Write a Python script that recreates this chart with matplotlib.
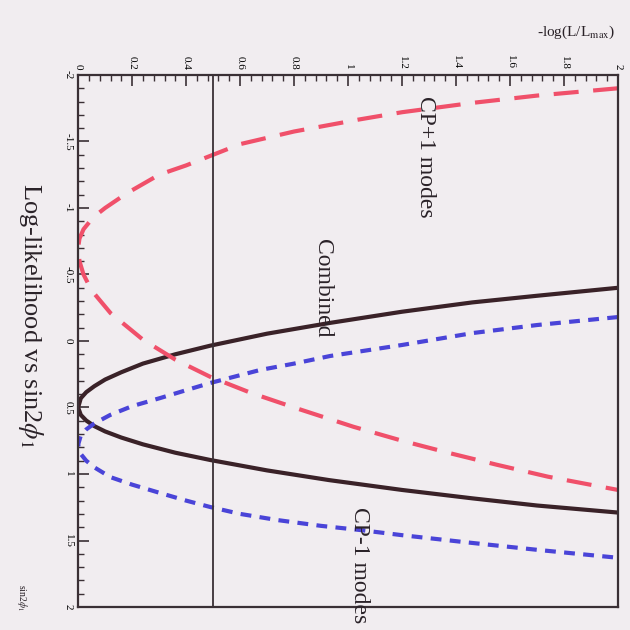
import matplotlib
matplotlib.use("Agg")
import matplotlib.pyplot as plt
from matplotlib.ticker import MultipleLocator

plt.rcParams['font.family'] = ['Liberation Serif', 'DejaVu Serif']
plt.rcParams['mathtext.fontset'] = 'stix'

# ---- data read from the (rotated) picture ----
# -log(L/Lmax) values and the matching sin2phi1 values, per curve
comb_L = [2.0, 1.7, 1.46, 1.2, 0.93, 0.70, 0.49, 0.36, 0.24, 0.16, 0.10, 0.06, 0.03, 0.01, 0.0,
          0.01, 0.03, 0.06, 0.10, 0.16, 0.24, 0.36, 0.49, 0.70, 0.93, 1.2, 1.46, 1.7, 2.0]
comb_s = [-0.40, -0.34, -0.29, -0.22, -0.135, -0.055, 0.035, 0.10, 0.17, 0.235, 0.29, 0.34, 0.385, 0.43, 0.50,
          0.556, 0.598, 0.64, 0.68, 0.726, 0.777, 0.84, 0.895, 0.973, 1.046, 1.12, 1.183, 1.237, 1.29]

cpp_L = [2.0, 1.7, 1.46, 1.2, 1.04, 0.80, 0.60, 0.50, 0.40, 0.30, 0.18, 0.10, 0.056, 0.02, 0.005, 0.0,
         0.005, 0.02, 0.05, 0.12, 0.24, 0.36, 0.49, 0.64, 0.80, 1.02, 1.2, 1.37, 1.55, 1.74, 2.0]
cpp_s = [-1.90, -1.845, -1.79, -1.72, -1.665, -1.575, -1.48, -1.40, -1.32, -1.25, -1.11, -1.00, -0.93, -0.84, -0.77, -0.70,
         -0.60, -0.50, -0.38, -0.21, -0.01, 0.14, 0.27, 0.39, 0.50, 0.645, 0.75, 0.84, 0.93, 1.02, 1.12]

cpm_L = [2.0, 1.7, 1.463, 1.2, 0.933, 0.8, 0.674, 0.489, 0.40, 0.304, 0.2, 0.119, 0.06, 0.03, 0.01, 0.0,
         0.01, 0.03, 0.06, 0.119, 0.2, 0.304, 0.40, 0.489, 0.6, 0.737, 0.9, 1.044, 1.2, 1.426, 1.7, 2.0]
cpm_s = [-0.18, -0.12, -0.06, 0.03, 0.113, 0.17, 0.218, 0.316, 0.37, 0.429, 0.49, 0.556, 0.62, 0.665, 0.71, 0.78,
         0.85, 0.90, 0.95, 1.023, 1.08, 1.143, 1.20, 1.248, 1.30, 1.346, 1.39, 1.421, 1.46, 1.511, 1.57, 1.63]

one_sigma = 0.5

L_ticks = [0, 0.2, 0.4, 0.6, 0.8, 1, 1.2, 1.4, 1.6, 1.8, 2]
L_ticklabels = ["0", "0.2", "0.4", "0.6", "0.8", "1", "1.2", "1.4", "1.6", "1.8", "2"]
s_ticks = [-2, -1.5, -1, -0.5, 0, 0.5, 1, 1.5, 2]
s_ticklabels = ["-2", "-1.5", "-1", "-0.5", "0", "0.5", "1", "1.5", "2"]

bg = '#f1edf0'
fig = plt.figure(figsize=(6.3, 6.3), dpi=100, facecolor=bg)
ax = fig.add_axes([0.124, 0.0365, 0.857, 0.8445], facecolor=bg)

ax.plot(comb_L, comb_s, color='#3a2228', lw=3.0, solid_joinstyle='round')
ax.plot(cpp_L, cpp_s, color='#f0506a', lw=3.0, linestyle=(0, (6, 3.5)))
ax.plot(cpm_L, cpm_s, color='#4a44d8', lw=3.0, linestyle=(0, (2.6, 2.0)))
ax.axvline(one_sigma, color='#3a3035', lw=1.3)

ax.set_xlim(0, 2)
ax.set_ylim(2, -2)

ax.xaxis.tick_top()
ax.set_xticks(L_ticks)
ax.set_xticklabels(L_ticklabels, rotation=-90, fontsize=8, va='bottom', ha='center')
ax.xaxis.set_minor_locator(MultipleLocator(0.04))
ax.set_yticks(s_ticks)
ax.set_yticklabels(s_ticklabels, rotation=-90, fontsize=8, va='center', ha='right')
ax.yaxis.set_minor_locator(MultipleLocator(0.1))
ax.tick_params(which='major', direction='in', length=8, width=1.2, color='#3a3035', pad=4)
ax.tick_params(which='minor', direction='in', length=4, width=1.0, color='#3a3035')
ax.tick_params(axis='x', which='both', top=True, bottom=False)
ax.tick_params(axis='y', which='both', left=True, right=False)
for sp in ax.spines.values():
    sp.set_color('#3a3035')
    sp.set_linewidth(1.6)

ax.text(1.285, -1.387, "CP+1 modes", rotation=-90, fontsize=17, ha='center', va='center', color='#2a2228')
ax.text(0.907, -0.40, "Combined", rotation=-90, fontsize=17, ha='center', va='center', color='#2a2228')
ax.text(1.044, 1.684, "CP-1 modes", rotation=-90, fontsize=17, ha='center', va='center', color='#2a2228', clip_on=False)

fig.text(0.048, 0.50, r"Log-likelihood vs sin2$\phi_1$", rotation=-90, fontsize=19,
         ha='center', va='center', color='#2a2228')
fig.text(0.035, 0.052, r"sin2$\phi_1$", rotation=-90, fontsize=7, ha='center', va='center', color='#2a2228')
fig.text(0.977, 0.948, r"-log(L/L$_{\rm max}$)", fontsize=11, ha='right', va='center', color='#2a2228')

fig.savefig("out.png", dpi=100, facecolor=bg)
